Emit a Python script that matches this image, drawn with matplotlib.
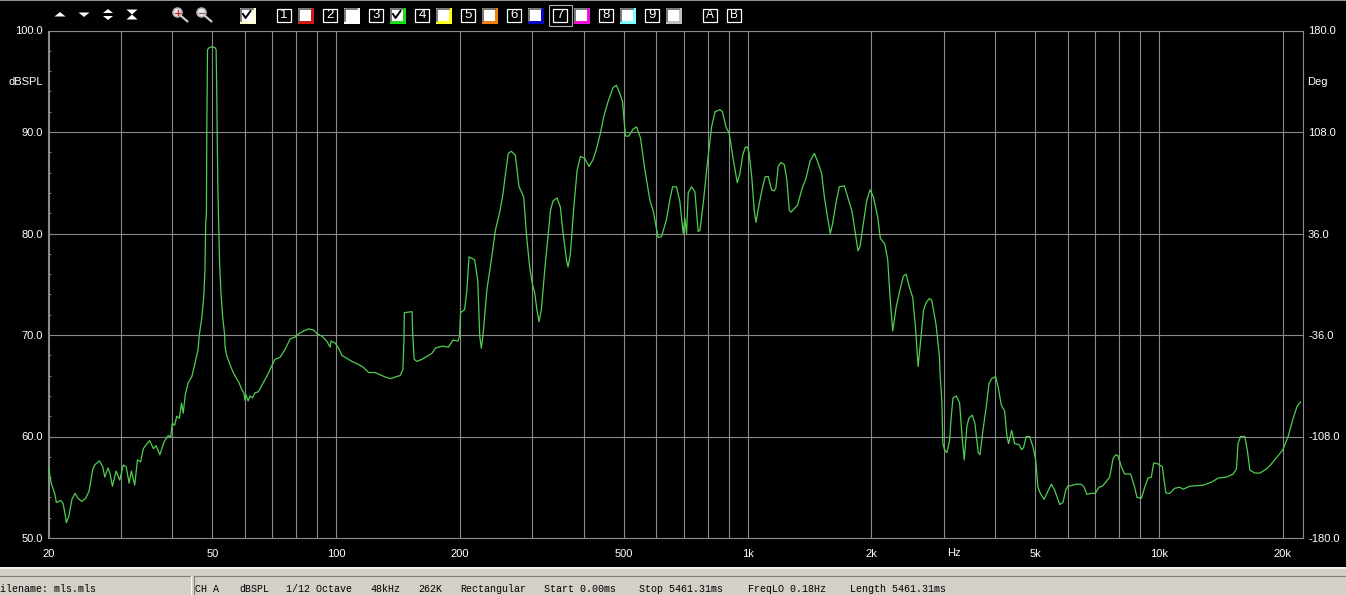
import matplotlib
matplotlib.use('Agg')
import matplotlib.pyplot as plt
from matplotlib.patches import Rectangle, Polygon, Circle

# frequency response, Hz / dBSPL
freq_low = [20, 20.3, 20.7, 20.9, 21.4, 21.7, 22, 22.1, 22.4, 22.8, 23.2, 23.6, 24.1, 24.6, 25.1, 25.6, 25.9, 26.6,
            27.1, 27.4, 27.9, 28.2, 28.6, 29.2, 29.8, 30.4, 30.9, 31.4, 31.8, 32.4, 32.9, 33.5, 34, 35.2, 36, 36.5,
            37.3, 38.2, 39.1, 39.6, 40, 40.5, 41, 41.6, 42.1, 42.5, 43, 43.7, 44.6, 45.4, 46.2, 46.5, 47.2, 47.7,
            48, 48.2, 48.4, 48.5, 48.7, 49.1, 50, 50.8, 51.1, 51.3, 51.4, 51.6, 51.9, 52.1, 52.5, 53, 53.6, 53.7,
            54.2, 55.2, 56.1, 57.1, 58.1, 59, 59.7, 60, 60.4, 61.1, 61.8, 62.6, 63.5, 64.7, 65.9, 67.8, 69.3, 71,
            73.1, 75.2, 77.3, 79.5, 81, 83.4, 85.7, 88.1, 90, 92.3, 94.9, 96.7, 97.2, 99.5, 101.4, 103.3, 106.2,
            109.2, 113.4, 116.6, 120, 124.4, 129.2, 132.8, 135.8, 140, 143.2, 145.3, 146.2, 146.5, 153, 153.5,
            154.8, 157.2, 161.6, 166.4, 171, 174.2, 181, 187.6, 192.2, 197.8, 199.5]
spl_low = [57, 55.4, 54.4, 53.5, 53.7, 53.4, 52.1, 51.5, 52.1, 53.8, 54.4, 53.9, 53.6, 53.9, 54.6, 56.7, 57.2, 57.6,
           57, 56, 56.9, 56.4, 55.1, 56.6, 55.7, 57.2, 57, 55.4, 56.6, 55.2, 57.7, 57.5, 58.8, 59.6, 58.8, 59.1,
           58.2, 59.5, 60.1, 59.9, 61.3, 61.1, 62, 61.8, 63.3, 62.3, 64.1, 65.3, 65.9, 67.2, 68.6, 70, 71.8, 73.9,
           76.4, 81, 82, 90, 98.1, 98.3, 98.4, 98.3, 98.1, 93.6, 90, 84.4, 80, 77.1, 74.1, 71.8, 70, 68.9,
           68, 67.1, 66.4, 65.8, 65.3, 64.6, 64.3, 63.6, 64.1, 63.5, 64, 63.8, 64.3, 64.4, 65, 65.9, 66.7, 67.6,
           67.8, 68.6, 69.6, 69.8, 70.1, 70.4, 70.6, 70.5, 70.1, 69.9, 69.4, 68.8, 69.4, 69.2, 68.7, 68, 67.7,
           67.4, 67.1, 66.8, 66.3, 66.3, 66, 65.8, 65.7, 65.9, 66, 66.6, 69.5, 72.2, 72.3, 70.2,
           67.6, 67.4, 67.6, 67.9, 68.2, 68.7, 68.9, 68.8, 69.5, 69.4, 69.9]
freq_mid = [200.7, 205.3, 208, 210.4, 217.2, 221, 223.4, 225.4, 227.4, 232.6, 238.4, 243.8, 249.8, 254.4, 259.2,
            262.2, 266.6, 272.6, 278.4, 285.8, 290, 295.4, 300, 304, 307.6, 311.2, 315.4, 321.4, 327.4, 332, 336.6,
            344.4, 350.8, 356.2, 363, 366.2, 371, 378.2, 385.2, 392.4, 402, 412, 421.4, 429.2, 439, 447.2, 458.2,
            471.2, 480, 489.2, 496.6, 505, 514.4, 527.2, 537.2, 549.4, 562.8, 578.8, 589.8, 606.4, 618, 635.4,
            647.2, 657.4, 672, 684.8, 697.6, 704, 710.8, 717.4, 731, 744.8, 758.6, 766, 780, 795, 817.6, 833.6,
            857, 869, 886, 902, 923, 944, 958, 973]
spl_mid = [72.2, 72.5, 74.5, 77.7, 77.4, 75.3, 69.9, 68.7, 69.9, 74.5, 77.4, 80.3, 82.1, 83.9, 86.5,
           87.9, 88.1, 87.7, 84.6, 83.6, 80, 76.7, 75, 74.1, 72.5, 71.3, 72.5, 76.4, 79.7, 82.3, 83.2,
           83.5, 82.6, 80, 77.4, 76.7, 78, 82.6, 86.2, 87.6, 87.4, 86.6, 87.3, 88.3, 89.9, 91.5, 93,
           94.4, 94.6, 93.8, 93, 89.6, 89.6, 90.3, 90.5, 89.4, 86.3, 83.3, 82.2, 79.6, 79.7, 81.4,
           83.3, 84.6, 84.6, 83.1, 80, 81.5, 80, 84, 84.6, 84.1, 80.2, 80.3, 82.9, 86.2, 90.5, 92,
           92.2, 92, 90.5, 89.9, 87.3, 85, 85.9, 87.7]
freq_high = [987, 1000, 1009, 1024, 1038, 1048, 1068, 1088, 1104, 1123, 1144, 1161, 1172, 1187, 1205, 1228, 1246,
             1263, 1275, 1323, 1356, 1386, 1418, 1453, 1480, 1514, 1537, 1566, 1589, 1610, 1640, 1671, 1719, 1751,
             1794, 1828, 1855, 1876, 1912, 1947, 1984, 2022, 2072, 2103, 2154, 2191, 2220, 2253, 2296, 2348, 2392,
             2428, 2474, 2520, 2559, 2597, 2641, 2676, 2716, 2767, 2804, 2872, 2926, 2939, 2953, 2967, 2983, 3011,
             3051, 3097, 3125, 3157, 3216, 3276, 3317, 3362, 3412, 3450, 3517, 3569, 3636, 3671, 3733, 3805, 3861,
             3919, 4008, 4068, 4137, 4215, 4270, 4310, 4384, 4457, 4566, 4635, 4685, 4757, 4847, 4939, 5014, 5079,
             5147, 5253, 5372, 5475, 5577, 5736, 5842, 5932, 6000, 6181, 6296, 6473, 6574, 6680, 6845, 7000, 7145,
             7280, 7420, 7586, 7730, 7845, 7950, 8100, 8250, 8530, 8725, 8840, 9060, 9230, 9400, 9580, 9705, 9944,
             10190, 10380, 10460, 10620, 10920, 11230, 11440, 11870, 12800, 13410, 13920, 14580, 15140, 15420,
             15560, 15780, 16160, 16400, 16620, 17090, 17580, 18250, 18760, 19470, 20000, 20600, 21180, 21670, 22070]
spl_high = [88.5, 88.5, 87.9, 85.5, 82.3, 81.1, 83, 84.6, 85.6, 85.6, 84.3, 84.2, 84.5, 86.6, 87, 86.8, 85.3,
            82.3, 82.1, 82.8, 84.4, 85.4, 87.1, 87.9, 87.1, 85.9, 83.6, 81.5, 80, 81, 83, 84.6, 84.7, 83.6,
            82.2, 80, 78.3, 78.7, 81, 83.2, 84.3, 83.6, 81.6, 79.5, 79, 77.4, 73.7, 70.4, 72.7, 74.5, 75.8,
            76, 74.7, 73.7, 70.8, 66.9, 69.9, 72.4, 73.2, 73.6, 73.4, 71, 67.9, 65.9, 64.7, 63.3, 59.3, 58.7,
            58.4, 59.6, 61.9, 63.8, 64, 63.3, 60.3, 57.7, 61, 61.8, 62.1, 61.3, 58.4, 58.2, 60.6, 63, 65.2,
            65.7, 65.9, 64.8, 63.1, 62.5, 60, 59.3, 60.6, 59.3, 59.2, 58.7, 58.9, 60, 60, 59, 57.7, 55,
            54.4, 53.8, 54.6, 55.3, 54.7, 53.3, 53.5, 54.7, 55.1, 55.2, 55.3, 55.3, 55, 54.3, 54.4, 54.4, 55,
            55.1, 55.5, 56, 57.8, 58.2, 58.1, 57, 56.3, 56.3, 55, 54, 53.9, 55, 55.9, 56, 57.4, 57.3,
            57, 54.5, 54.4, 54.4, 54.9, 55, 54.8, 55.1, 55.2, 55.5, 55.9, 56, 56.3, 56.8,
            59.3, 60, 60, 58.6, 56.7, 56.4, 56.4, 56.8, 57.3, 58.1, 58.7, 60, 61.8, 63, 63.4]

x_ticks = [20, 30, 40, 50, 60, 70, 80, 90, 100, 200, 300, 400, 500, 600, 700, 800, 900, 1000,
           2000, 3000, 4000, 5000, 6000, 7000, 8000, 9000, 10000, 20000]
x_labels = {20: '20', 50: '50', 100: '100', 200: '200', 500: '500', 1000: '1k', 2000: '2k',
            5000: '5k', 10000: '10k', 20000: '20k'}
db_ticks = [50, 60, 70, 80, 90, 100]
deg_ticks = [-180, -108, -36, 36, 108, 180]
status_items = ['CH A', 'dBSPL', '1/12 Octave', '48kHz', '262K', 'Rectangular', 'Start 0.00ms',
                'Stop 5461.31ms', 'FreqLO 0.18Hz', 'Length 5461.31ms']
status_x = [195, 239, 286, 370, 418, 460, 544, 639, 748, 850]
trace_buttons = ['1', '2', '3', '4', '5', '6', '7', '8', '9']
button_x = [277, 323, 369, 415, 461, 507, 553, 599, 645]
swatch_x = [298, 344, 390, 436, 482, 528, 574, 620, 666]
swatch_colors = ['#D01818', '#FFFFFF', '#18E018', '#FFFF20', '#F08010', '#0808C0', '#F010E0', '#80FFFF', '#C0C0C0']

W, H = 1346, 595
GRID = '#8A8A8A'
plt.rcParams['font.family'] = ['Liberation Sans', 'DejaVu Sans']

fig = plt.figure(figsize=(W / 100, H / 100), dpi=100, facecolor='black')
ax = fig.add_axes([48.5 / W, 1 - 538 / H, (1302.5 - 48.5) / W, (538 - 30.5) / H], facecolor='black')

ax.set_xscale('log')
ax.set_xlim(20, 22320)
ax.set_ylim(50, 100)
ax.plot(freq_low + freq_mid + freq_high, spl_low + spl_mid + spl_high, color='#50CE50', lw=0.9, zorder=3)

ax.set_xticks(x_ticks)
ax.set_xticklabels([x_labels.get(t, '') for t in x_ticks], color='white', fontsize=8)
ax.minorticks_off()
ax.set_xticks([], minor=True)
ax.tick_params(axis='x', which='major', length=0, pad=8)
ax.set_yticks(db_ticks)
ax.set_yticklabels(['%.1f' % t for t in db_ticks], color='white', fontsize=8)
ax.set_yticks(range(50, 101, 2), minor=True)
ax.tick_params(axis='y', which='major', length=0, pad=4)
ax.tick_params(axis='y', which='minor', length=2.4, width=0.7, color=GRID, direction='in', left=True, right=True)
ax.grid(True, which='major', color=GRID, lw=0.8)
for s in ax.spines.values():
    s.set_color(GRID)
    s.set_linewidth(0.8)

ax2 = ax.twinx()
ax2.set_ylim(-180, 180)
ax2.set_yticks(deg_ticks)
ax2.set_yticklabels(['%.1f' % t for t in deg_ticks], color='white', fontsize=8)
ax2.tick_params(axis='y', length=0, pad=4)
for s in ax2.spines.values():
    s.set_visible(False)

# toolbar and status bar, in pixel coordinates
ov = fig.add_axes([0, 0, 1, 1], facecolor='none')
ov.set_xlim(0, W)
ov.set_ylim(H, 0)
ov.axis('off')
ov.add_patch(Rectangle((0, 0), W, 1.2, color='#909090', lw=0))


def tri(cx, cy, up, w=5.5, h=4.5):
    tip = cy - h if up else cy + h
    ov.add_patch(Polygon([(cx - w, cy), (cx + w, cy), (cx, tip)], color='white', lw=0))


tri(60, 16.5, True)
tri(84, 12.5, False)
tri(108, 13, True, 5, 4)
tri(108, 16, False, 5, 4)
tri(132, 9.5, False, 5.5, 5)
tri(132, 19.5, True, 5.5, 5)


def lens(cx, cy, mark):
    ov.plot([cx + 3, cx + 10], [cy + 3, cy + 9], color='#C8C8C8', lw=1.6, solid_capstyle='round')
    ov.add_patch(Circle((cx, cy), 4.6, fc='#E8E8E8', ec='#A8A8A8', lw=1))
    ov.plot([cx - 2.5, cx + 2.5], [cy, cy], color=mark, lw=0.9)
    if mark == '#D02020':
        ov.plot([cx, cx], [cy - 2.5, cy + 2.5], color=mark, lw=0.9)


lens(177.5, 12.5, '#D02020')
lens(201.5, 12.5, '#A06060')


def check(x, y):
    ov.plot([x + 3, x + 5.5, x + 10.5], [y + 6, y + 10, y + 3], color='black', lw=1.4)


def swatch(x, color, checked=False):
    ov.add_patch(Rectangle((x, 8), 16, 16, fc=color, lw=0))
    ov.add_patch(Rectangle((x, 8), 12.5, 12.5, fc='white', lw=0))
    ov.plot([x + 0.5, x + 0.5, x + 12.5], [20.5, 8.5, 8.5], color='#606060', lw=1.2)
    if checked:
        check(x, 8)


swatch(240, '#FFFFD8', True)
for lab, bx, sx, col in zip(trace_buttons, button_x, swatch_x, swatch_colors):
    ov.add_patch(Rectangle((bx, 8.5), 13.5, 13.5, fc='black', ec='white', lw=0.9))
    ov.text(bx + 7, 15.5, lab, color='white', fontsize=9.5, ha='center', va='center')
    swatch(sx, col, lab == '3')
ov.add_patch(Rectangle((548.5, 4.5), 23, 21, fc='none', ec='#B0B0B0', lw=0.8))
for lab, bx in zip(['A', 'B'], [703, 727]):
    ov.add_patch(Rectangle((bx, 8.5), 13.5, 13.5, fc='black', ec='white', lw=0.9))
    ov.text(bx + 7, 15.5, lab, color='white', fontsize=8.5, ha='center', va='center')

ov.text(43, 82, 'dBSPL', color='white', fontsize=8, ha='right', va='center')
ov.text(1307, 82, 'Deg', color='white', fontsize=8, ha='left', va='center')
ov.text(954, 553, 'Hz', color='white', fontsize=8, ha='center', va='center')

ov.add_patch(Rectangle((0, 566.5), W, 2.5, color='#F4F2EC', lw=0))
ov.add_patch(Rectangle((0, 569), W, 26, color='#D4D0C8', lw=0))
ov.plot([0, 190], [576, 576], color='#808078', lw=0.8)
ov.plot([190.5, 190.5], [576, 595], color='#F8F8F8', lw=0.8)
ov.plot([194, W], [576, 576], color='#808078', lw=0.8)
ov.plot([194, 194], [576, 595], color='#808078', lw=0.8)
ov.text(0, 589.5, 'ilename: mls.mls', color='black', fontsize=7.2, family='Liberation Mono', va='center')
for lab, sx in zip(status_items, status_x):
    ov.text(sx, 589.5, lab, color='black', fontsize=7.2, family='Liberation Mono', va='center')

fig.savefig('out.png', dpi=100, facecolor='black')
